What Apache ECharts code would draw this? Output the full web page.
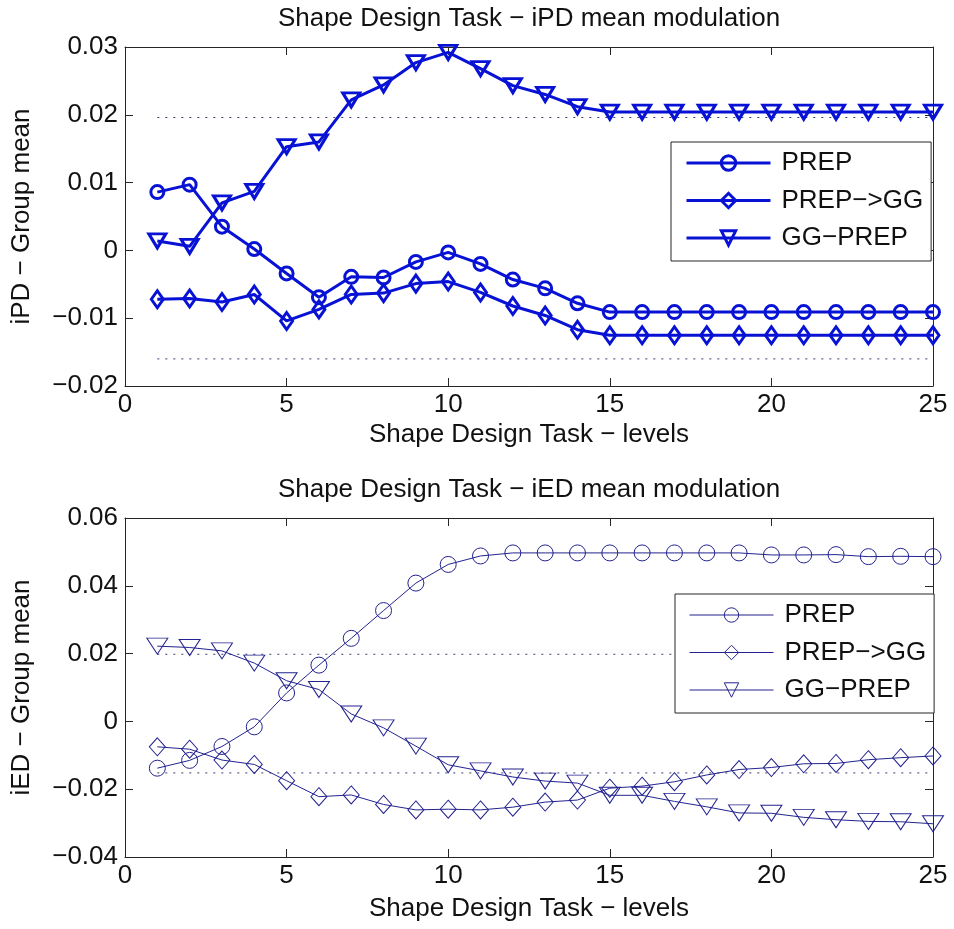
<!DOCTYPE html>
<html>
<head>
<meta charset="utf-8">
<script src="https://cdn.jsdelivr.net/npm/echarts@6/dist/echarts.min.js"></script>
<style>
  html, body { margin: 0; padding: 0; background: #fff; }
  #chart { width: 954px; height: 929px; }
</style>
</head>
<body>
<div id="chart"></div>
<script>
// Task levels (x values shared by both panels)
const levels = [1, 2, 3, 4, 5, 6, 7, 8, 9, 10, 11, 12, 13, 14, 15, 16, 17, 18, 19, 20, 21, 22, 23, 24, 25];

// iPD group-mean modulation
const ipdPrep   = [0.0086, 0.0097, 0.0035, 0.0002, -0.0034, -0.0069, -0.0039, -0.0040, -0.0017, -0.0003, -0.0020, -0.0043, -0.0056, -0.0078, -0.0091, -0.0091, -0.0091, -0.0091, -0.0091, -0.0091, -0.0091, -0.0091, -0.0091, -0.0091, -0.0091];
const ipdPrepGG = [-0.0072, -0.0071, -0.0076, -0.0065, -0.0104, -0.0087, -0.0065, -0.0063, -0.0049, -0.0046, -0.0062, -0.0082, -0.0096, -0.0117, -0.0125, -0.0125, -0.0125, -0.0125, -0.0125, -0.0125, -0.0125, -0.0125, -0.0125, -0.0125, -0.0125];
const ipdGGPrep = [0.0014, 0.0006, 0.0070, 0.0087, 0.0153, 0.0160, 0.0222, 0.0244, 0.0277, 0.0292, 0.0268, 0.0243, 0.0230, 0.0212, 0.0204, 0.0204, 0.0204, 0.0204, 0.0204, 0.0204, 0.0204, 0.0204, 0.0204, 0.0204, 0.0204];
const ipdBounds = [0.0196, -0.0160];

// iED group-mean modulation
const iedPrep   = [-0.0138, -0.0115, -0.0074, -0.0016, 0.0084, 0.0166, 0.0245, 0.0327, 0.0408, 0.0463, 0.0488, 0.0497, 0.0497, 0.0497, 0.0497, 0.0497, 0.0497, 0.0497, 0.0497, 0.0491, 0.0491, 0.0492, 0.0486, 0.0487, 0.0486];
const iedPrepGG = [-0.0075, -0.0082, -0.0114, -0.0127, -0.0175, -0.0222, -0.0217, -0.0245, -0.0261, -0.0259, -0.0261, -0.0253, -0.0238, -0.0232, -0.0197, -0.0191, -0.0178, -0.0158, -0.0142, -0.0136, -0.0125, -0.0124, -0.0113, -0.0107, -0.0102];
const iedGGPrep = [0.0222, 0.0218, 0.0208, 0.0172, 0.0120, 0.0094, 0.0022, -0.0019, -0.0073, -0.0128, -0.0146, -0.0164, -0.0176, -0.0182, -0.0218, -0.0218, -0.0236, -0.0252, -0.0270, -0.0271, -0.0283, -0.0290, -0.0295, -0.0296, -0.0302];
const iedBounds = [0.0198, -0.0152];

const groupNames = ['PREP', 'PREP\u2212>GG', 'GG\u2212PREP'];
const titles = ['Shape Design Task \u2212 iPD mean modulation', 'Shape Design Task \u2212 iED mean modulation'];
const yNames = ['iPD \u2212 Group mean', 'iED \u2212 Group mean'];
const xName = 'Shape Design Task \u2212 levels';

const FONT = '"Liberation Sans", Arial, Helvetica, sans-serif';
const AXIS_COLOR = '#262626';
const TEXT_COLOR = '#111';

const pair = (ys) => levels.map((x, i) => [x, ys[i]]);

function tickFmt(v) {
  if (Math.abs(v) < 1e-9) return '0';
  return (v < 0 ? '\u2212' : '') + Math.abs(v).toFixed(2);
}

const panels = [
  {
    key: 'iPD', top: 47, yMin: -0.02, yMax: 0.03, yInt: 0.01,
    color: '#0812d4', width: 3,
    sizes: { circle: 13, diamond: [12, 17], triangle: [17, 14] },
    series: [ipdPrep, ipdPrepGG, ipdGGPrep], bounds: ipdBounds,
    legend: { left: 671, top: 142 }, titleTop: 6, xGap: 36
  },
  {
    key: 'iED', top: 518, yMin: -0.04, yMax: 0.06, yInt: 0.02,
    color: '#23238f', width: 1,
    sizes: { circle: 16, diamond: [16, 18], triangle: [21, 16] },
    series: [iedPrep, iedPrepGG, iedGGPrep], bounds: iedBounds,
    legend: { left: 675, top: 594 }, titleTop: 477, xGap: 39
  }
];

const grid = [], xAxis = [], yAxis = [], series = [], legend = [], title = [];

panels.forEach((p, k) => {
  grid.push({ left: 125, top: p.top, width: 808, height: 339 });

  const tickCommon = { inside: true, length: 8, lineStyle: { color: AXIS_COLOR } };
  const lineCommon = { show: true, onZero: false, lineStyle: { color: AXIS_COLOR, width: 1 } };

  xAxis.push({
    gridIndex: k, type: 'value', min: 0, max: 25, interval: 5, position: 'bottom',
    axisLine: lineCommon, axisTick: tickCommon, splitLine: { show: false },
    axisLabel: { fontSize: 26, color: TEXT_COLOR, fontFamily: FONT, margin: 6 },
    name: xName, nameLocation: 'middle', nameGap: p.xGap,
    nameTextStyle: { fontSize: 26, color: TEXT_COLOR, fontFamily: FONT }
  });
  xAxis.push({
    gridIndex: k, type: 'value', min: 0, max: 25, interval: 5, position: 'top',
    axisLine: lineCommon, axisTick: tickCommon, splitLine: { show: false },
    axisLabel: { show: false }
  });
  yAxis.push({
    gridIndex: k, type: 'value', min: p.yMin, max: p.yMax, interval: p.yInt, position: 'left',
    axisLine: lineCommon, axisTick: tickCommon, splitLine: { show: false },
    axisLabel: { fontSize: 26, color: TEXT_COLOR, fontFamily: FONT, margin: 7, formatter: tickFmt },
    name: yNames[k], nameLocation: 'middle', nameGap: 90,
    nameTextStyle: { fontSize: 26, color: TEXT_COLOR, fontFamily: FONT }
  });
  yAxis.push({
    gridIndex: k, type: 'value', min: p.yMin, max: p.yMax, interval: p.yInt, position: 'right',
    axisLine: lineCommon, axisTick: tickCommon, splitLine: { show: false },
    axisLabel: { show: false }
  });

  const xi = k * 2, yi = k * 2;

  // dotted reference levels
  p.bounds.forEach((b) => {
    series.push({
      type: 'line', xAxisIndex: xi, yAxisIndex: yi, silent: true, symbol: 'none',
      data: [[levels[0], b], [levels[levels.length - 1], b]],
      lineStyle: { color: '#3a3a70', width: 1, type: [2, 6] }, z: 1
    });
  });

  const symbols = [
    { symbol: 'circle', size: p.sizes.circle, rotate: 0 },
    { symbol: 'diamond', size: p.sizes.diamond, rotate: 0 },
    { symbol: 'triangle', size: p.sizes.triangle, rotate: 180 }
  ];
  const names = groupNames.map((g) => p.key + ' ' + g);
  p.series.forEach((ys, j) => {
    series.push({
      type: 'line', name: names[j], xAxisIndex: xi, yAxisIndex: yi,
      data: pair(ys),
      symbol: symbols[j].symbol, symbolSize: symbols[j].size, symbolRotate: symbols[j].rotate,
      showAllSymbol: true,
      lineStyle: { color: p.color, width: p.width },
      itemStyle: { color: 'rgba(255,255,255,0)', borderColor: p.color, borderWidth: p.width },
      emphasis: { disabled: true }, z: 3
    });
  });

  legend.push({
    orient: 'vertical', left: p.legend.left, top: p.legend.top,
    padding: [8, 8, 10, 14], borderColor: AXIS_COLOR, borderWidth: 1, backgroundColor: '#fff',
    itemWidth: 84, itemHeight: 18, itemGap: 11.5, selectedMode: false,
    data: names,
    lineStyle: { width: p.width, color: p.color },
    itemStyle: { color: 'rgba(255,255,255,0)', borderColor: p.color, borderWidth: p.width },
    formatter: (n) => n.slice(p.key.length + 1),
    textStyle: { fontSize: 26, color: TEXT_COLOR, fontFamily: FONT, padding: [0, 0, 0, 6] }
  });

  title.push({
    text: titles[k], left: 529, top: p.titleTop, textAlign: 'center', padding: 0,
    textStyle: { fontSize: 26, fontWeight: 'normal', color: TEXT_COLOR, fontFamily: FONT }
  });
});

const chart = echarts.init(document.getElementById('chart'), null, { renderer: 'canvas' });
chart.setOption({
  backgroundColor: '#fff',
  animation: false,
  title, grid, xAxis, yAxis, legend, series
});
</script>
</body>
</html>
